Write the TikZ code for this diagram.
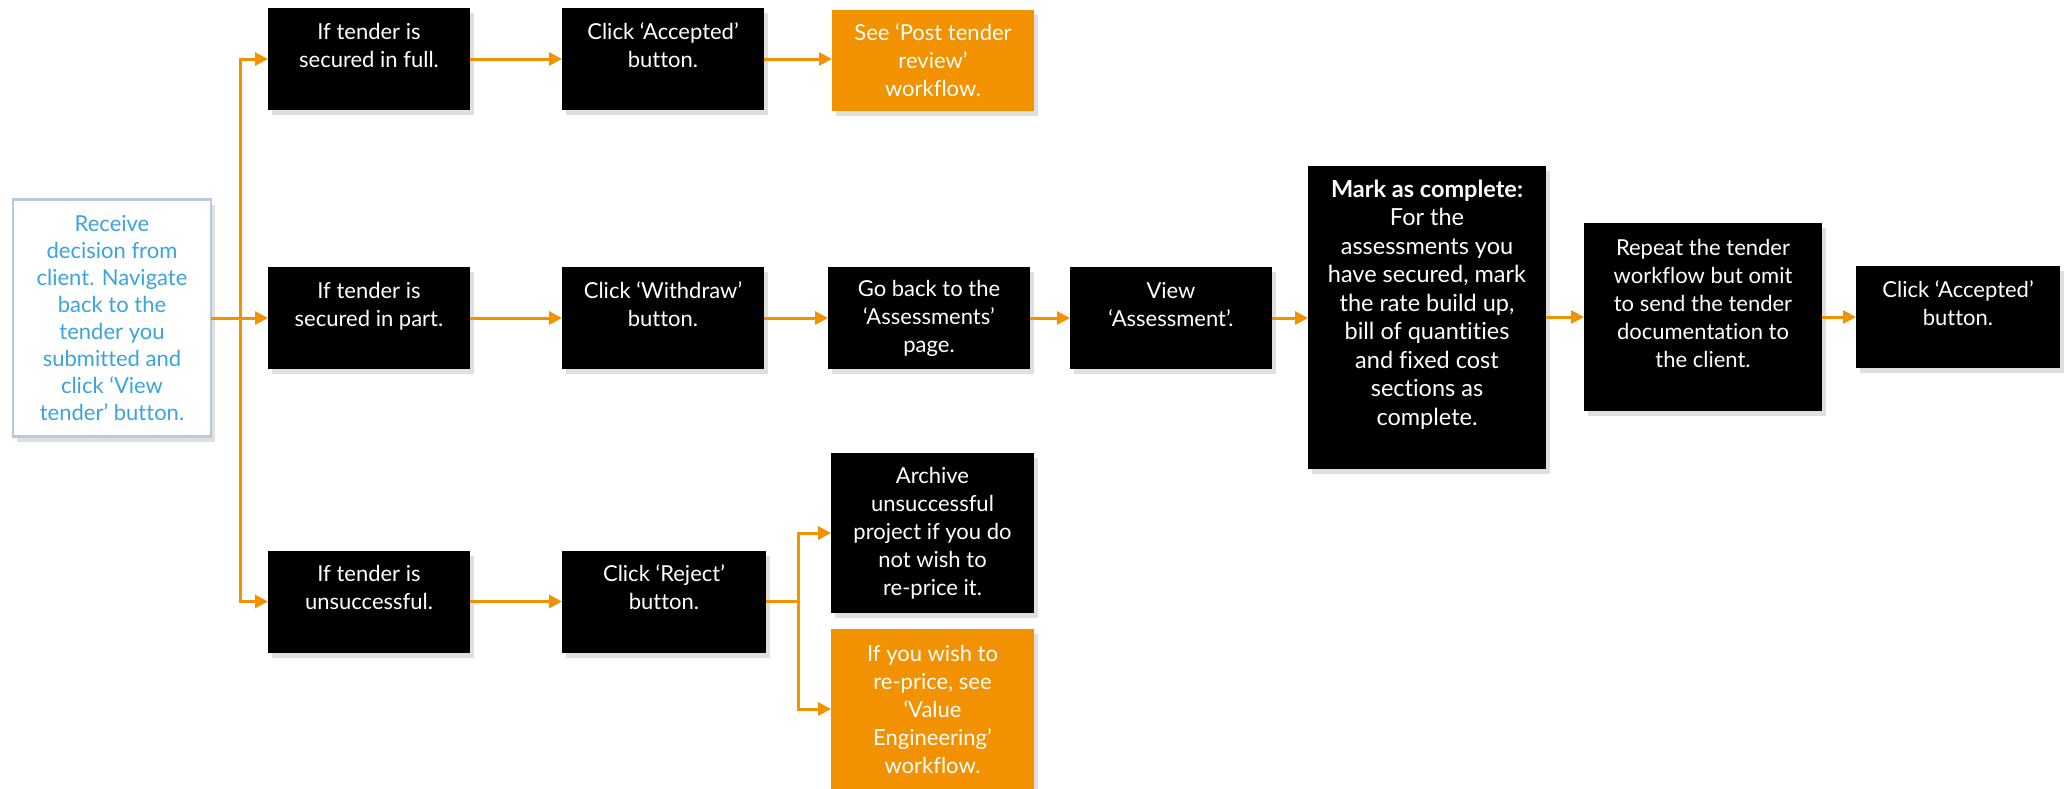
\documentclass[tikz,border=0pt]{standalone}
\usepackage{fontspec}
\setmainfont{Lato}[Ligatures={NoCommon}]
\usetikzlibrary{arrows.meta,shadows}
\definecolor{orng}{HTML}{F39200}
\definecolor{bluetxt}{HTML}{3BA4DC}
\definecolor{blueline}{HTML}{B7C9E2}
\tikzset{
  box/.style={fill=black, text=white, align=center,
    font=\fontsize{22}{28}\selectfont, inner sep=0pt, outer sep=0pt,
    minimum width=202pt, minimum height=102pt,
    drop shadow={opacity=0.25, shadow xshift=4pt, shadow yshift=-5pt}},
  obox/.style={box, fill=orng},
  startbox/.style={box, fill=white, draw=blueline, line width=2.5pt, text=bluetxt,
    font=\fontsize{22}{27}\selectfont},
  arr/.style={draw=orng, line width=3pt, -{Triangle[length=13pt,width=13pt]}},
  ln/.style={draw=orng, line width=3pt},
}
\begin{document}
\begin{tikzpicture}[x=1pt,y=-1pt]
\useasboundingbox (0,0) rectangle (2065,788);
% nodes
\node[startbox, minimum width=198pt, minimum height=237pt] (rcv) at (112,318)
  {Receive\\decision from\\client. Navigate\\back to the\\tender you\\submitted and\\click ‘View\\tender’ button.};
\node[box] (a1) at (369,59) {If tender is\\secured in full.\\~};
\node[box] (a2) at (663,59) {Click ‘Accepted’\\button.\\~};
\node[obox, minimum height=101pt] (a3) at (933,60) {See ‘Post tender\\review’\\workflow.};
\node[box] (b1) at (369,318) {If tender is\\secured in part.\\~};
\node[box] (b2) at (663,318) {Click ‘Withdraw’\\button.\\~};
\node[box] (b3) at (929,318) {Go back to the\\‘Assessments’\\page.};
\node[box] (b4) at (1171,318) {View\\‘Assessment’.\\~};
\node[box, minimum width=238pt, minimum height=303pt, font=\fontsize{23.5}{28.5}\selectfont] (b5) at (1427,317)
  {\textbf{Mark as complete:}\\For the\\assessments you\\have secured, mark\\the rate build up,\\bill of quant\kern0pt it\kern0pt ies\\and fixed cost\\sections as\\complete.\\~};
\node[box, minimum width=238pt, minimum height=188pt] (b6) at (1703,317)
  {Repeat the tender\\workflow but omit\\to send the tender\\documentat\kern0pt ion to\\the client.\\~};
\node[box, minimum width=204pt] (b7) at (1958,317) {Click ‘Accepted’\\button.\\~};
\node[box] (c1) at (369,601.5) {If tender is\\unsuccessful.\\~};
\node[box, minimum width=204pt] (c2) at (664,601.5) {Click ‘Reject’\\button.\\~};
\node[box, minimum width=203pt, minimum height=160pt] (c3) at (932.5,533)
  {Archive\\unsuccessful\\project if you do\\not wish to\\re-price it.};
\node[obox, minimum width=203pt, minimum height=160pt] (c4) at (932.5,709)
  {If you wish to\\re-price, see\\‘Value\\Engineering’\\workflow.};
% connectors
\coordinate (trunk) at (240,318);
\coordinate (cbr) at (798,601.5);
\draw[arr] (rcv.east) -- (b1.west);
\draw[arr] (trunk) |- (a1.west);
\draw[arr] (trunk) |- (c1.west);
\draw[arr] (a1) -- (a2);
\draw[arr] (a2.east) -- (a3.west |- a2.east);
\draw[arr] (b1) -- (b2);
\draw[arr] (b2) -- (b3);
\draw[arr] (b3) -- (b4);
\draw[arr] (b4.east) -- (b5.west |- b4.east);
\draw[arr] (b5.east |- b6.west) -- (b6.west);
\draw[arr] (b6.east |- b7.west) -- (b7.west);
\draw[arr] (c1) -- (c2);
\draw[ln] (c2.east) -- (cbr);
\draw[arr] (cbr) |- (c3.west);
\draw[arr] (cbr) |- (c4.west);
\end{tikzpicture}
\end{document}
